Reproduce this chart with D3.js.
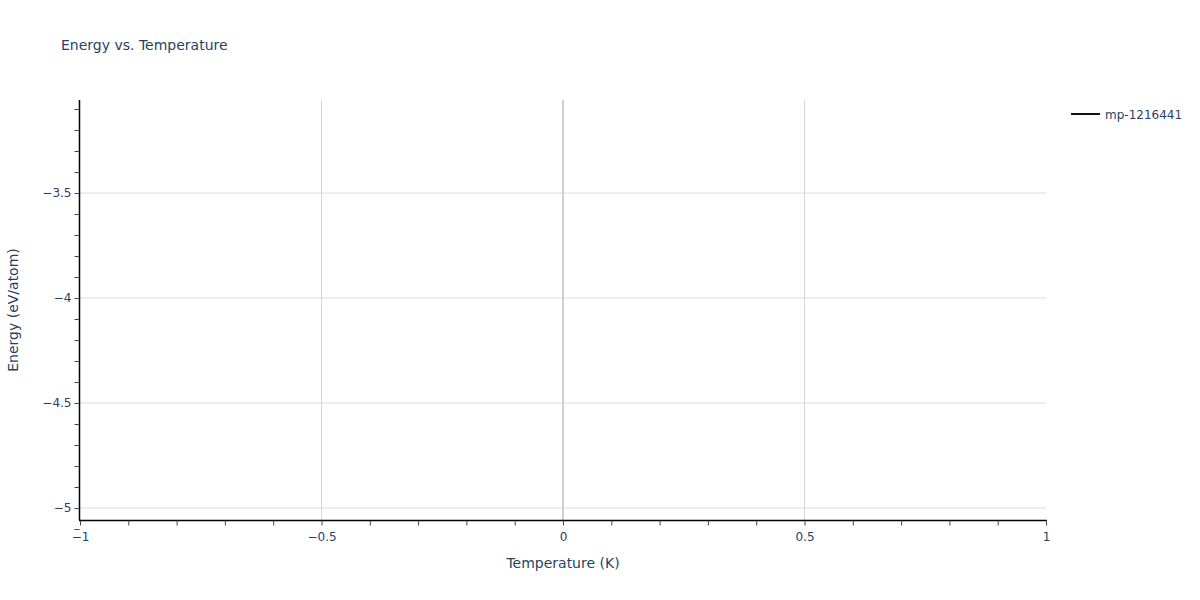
<!DOCTYPE html>
<html>
<head>
<meta charset="utf-8">
<script src="https://cdn.jsdelivr.net/npm/d3@7"></script>
<style>
  body { margin: 0; background: #fff; }
  text { font-family: "DejaVu Sans", Verdana, sans-serif; fill: #2a3f5f; }
</style>
</head>
<body>
<svg id="chart" width="1200" height="600"></svg>
<script>
// data
var seriesNames = ['mp-1216441'];
var temperatures = [0];
var energies = [-4.057];
var xTicks = [-1, -0.5, 0, 0.5, 1];
var yTicks = [-5, -4.5, -4, -3.5];

var width = 1200, height = 600;
var margin = {left: 80, right: 154, top: 100, bottom: 80};
var plotW = width - margin.left - margin.right;
var plotH = height - margin.top - margin.bottom;

var svg = d3.select('#chart');

var x = d3.scaleLinear().domain([-1, 1]).range([0, plotW]);
var y = d3.scaleLinear().domain([energies[0] - 1, energies[0] + 1]).range([plotH, 0]);

function fmt(v){
    return String(v).replace('-', '\u2212');
}

var g = svg.append('g')
    .attr('transform', 'translate(' + margin.left + ',' + margin.top + ')');

//grid lines
g.append('g').selectAll('line.ygrid').data(yTicks).enter()
    .append('line')
    .attr('x1', 0).attr('x2', plotW)
    .attr('y1', function(d){return y(d);})
    .attr('y2', function(d){return y(d);})
    .attr('stroke', '#dcdcdc').attr('stroke-width', 1);

g.append('g').selectAll('line.xgrid').data(xTicks.filter(function(d){return d !== 0 && Math.abs(d) !== 1;})).enter()
    .append('line')
    .attr('x1', function(d){return x(d);})
    .attr('x2', function(d){return x(d);})
    .attr('y1', 0).attr('y2', plotH)
    .attr('stroke', '#d6d6d6').attr('stroke-width', 1);

//zero line
g.append('line')
    .attr('x1', x(0)).attr('x2', x(0))
    .attr('y1', 0).attr('y2', plotH)
    .attr('stroke', '#d0d0d0').attr('stroke-width', 2);

//series
var line = d3.line()
    .x(function(d){return x(d[0]);})
    .y(function(d){return y(d[1]);});

g.append('path')
    .datum(d3.zip(temperatures, energies))
    .attr('fill', 'none')
    .attr('stroke', '#111')
    .attr('stroke-width', 2)
    .attr('d', line);

//axes
var xMinor = d3.range(-10, 11).map(function(i){return i / 10;});
var xAxis = d3.axisBottom(x).tickValues(xMinor).tickSize(5).tickPadding(7)
    .tickFormat(function(d){return xTicks.indexOf(Math.round(d * 10) / 10) >= 0 ? fmt(d) : '';});

var xg = g.append('g')
    .attr('transform', 'translate(0,' + (plotH + 0.5) + ')')
    .call(xAxis);
xg.select('.domain').attr('stroke', '#000').attr('stroke-width', 1.5).attr('d', 'M-1,0H' + (plotW + 1));
xg.selectAll('.tick line').attr('stroke', '#444');
xg.selectAll('.tick text').style('font-size', '12px').attr('fill', '#2a3f5f');

var yMinor = d3.range(-51, -30).map(function(i){return i / 10;});
var yAxis = d3.axisLeft(y).tickValues(yMinor).tickSize(5).tickPadding(3)
    .tickFormat(function(d){return yTicks.indexOf(Math.round(d * 10) / 10) >= 0 ? fmt(d) : '';});

var yg = g.append('g')
    .attr('transform', 'translate(-0.5,0)')
    .call(yAxis);
yg.select('.domain').attr('stroke', '#000').attr('stroke-width', 1.5).attr('d', 'M0,0V' + plotH);
yg.selectAll('.tick line').attr('stroke', '#444');
yg.selectAll('.tick text').style('font-size', '12px').attr('fill', '#2a3f5f');

//title
svg.append('text')
    .attr('x', 61).attr('y', 50)
    .style('font-size', '14px')
    .text('Energy vs. Temperature');

svg.append('text')
    .attr('x', margin.left + plotW / 2).attr('y', 568)
    .attr('text-anchor', 'middle')
    .style('font-size', '14px')
    .text('Temperature (K)');

svg.append('text')
    .attr('transform', 'translate(18,' + (margin.top + plotH / 2) + ') rotate(-90)')
    .attr('text-anchor', 'middle')
    .style('font-size', '14px')
    .text('Energy (eV/atom)');

//legend
var legend = svg.append('g').attr('transform', 'translate(1071,114)');
legend.selectAll('g').data(seriesNames).enter()
    .append('g')
    .each(function(d){
        var item = d3.select(this);
        item.append('line')
            .attr('x1', 0).attr('x2', 29)
            .attr('stroke', '#111').attr('stroke-width', 2);
        item.append('text')
            .attr('x', 34).attr('y', 5)
            .style('font-size', '12px')
            .text(d);
    });
</script>
</body>
</html>
